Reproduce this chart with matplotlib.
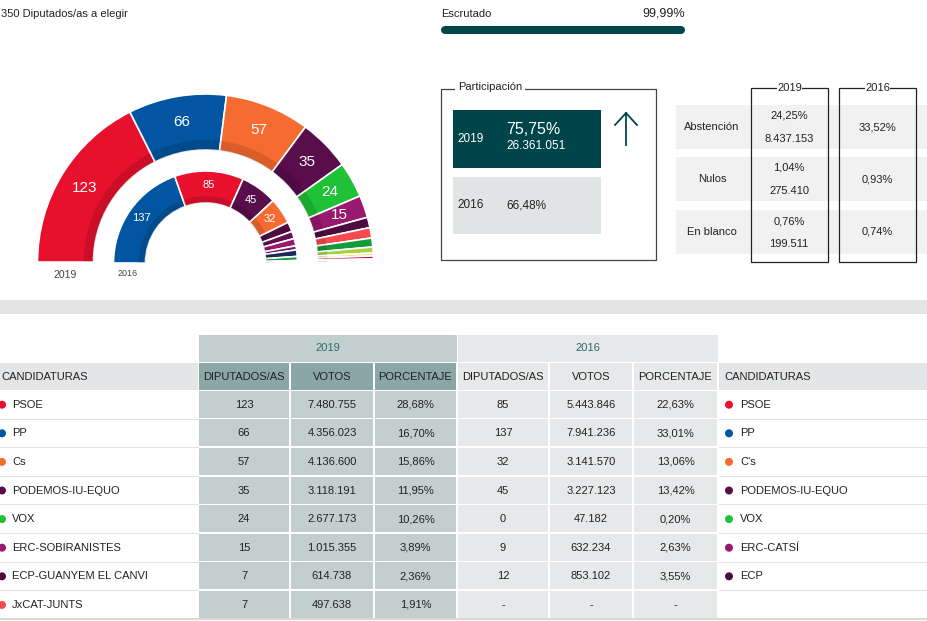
import math
import matplotlib.pyplot as plt
from matplotlib.patches import Wedge, Rectangle, Circle

plt.rcParams['font.family'] = ['Liberation Sans', 'DejaVu Sans']

# hemicycle data
seats_2019 = [123, 66, 57, 35, 24, 15, 7, 7, 6, 4, 2, 2, 1, 1]
colors_2019 = ['#e8112d', '#0256a1', '#f66b30', '#590d4a', '#1fc236', '#98196e', '#4d0b40',
               '#f54b4e', '#129b3a', '#a7d13e', '#f7e67a', '#c8102e', '#e96b8a', '#f5c4cf']
labels_2019 = [True, True, True, True, True, True, False, False, False, False, False, False, False, False]

seats_2016 = [137, 85, 45, 32, 12, 9, 9, 5, 8, 5, 2, 1]
colors_2016 = ['#0256a1', '#e8112d', '#590d4a', '#f66b30', '#4d0b40', '#5e1050', '#98196e',
               '#7a1a5e', '#1c2a5a', '#129b3a', '#a7d13e', '#f7e67a']
labels_2016 = [True, True, True, True, False, False, False, False, False, False, False, False]

# participation
part_years = ['2019', '2016']
part_pct = ['75,75%', '66,48%']
part_votes = ['26.361.051', '']

# abstention / null / blank
abs_rows = ['Abstención', 'Nulos', 'En blanco']
abs_2019_pct = ['24,25%', '1,04%', '0,76%']
abs_2019_num = ['8.437.153', '275.410', '199.511']
abs_2016_pct = ['33,52%', '0,93%', '0,74%']

# results table
parties_2019 = ['PSOE', 'PP', 'Cs', 'PODEMOS-IU-EQUO', 'VOX', 'ERC-SOBIRANISTES',
                'ECP-GUANYEM EL CANVI', 'JxCAT-JUNTS']
dip_2019 = [123, 66, 57, 35, 24, 15, 7, 7]
votos_2019 = [7480755, 4356023, 4136600, 3118191, 2677173, 1015355, 614738, 497638]
pct_2019 = [28.68, 16.70, 15.86, 11.95, 10.26, 3.89, 2.36, 1.91]
party_colors = ['#e8112d', '#0256a1', '#f66b30', '#590d4a', '#1fc236', '#98196e', '#4d0b40', '#f54b4e']

parties_2016 = ['PSOE', 'PP', "C's", 'PODEMOS-IU-EQUO', 'VOX', 'ERC-CATSÍ', 'ECP', None]
dip_2016 = [85, 137, 32, 45, 0, 9, 12, None]
votos_2016 = [5443846, 7941236, 3141570, 3227123, 47182, 632234, 853102, None]
pct_2016 = [22.63, 33.01, 13.06, 13.42, 0.20, 2.63, 3.55, None]

dark = '#222222'
teal = '#00454a'
fs = 8


def fmt_int(v):
    if v is None:
        return '-'
    return f'{v:,}'.replace(',', '.')


def fmt_pct(v):
    if v is None:
        return '-'
    return f'{v:.2f}%'.replace('.', ',')


fig = plt.figure(figsize=(9.28, 6.21), dpi=100)
ax = fig.add_axes([0, 0, 1, 1])
ax.set_xlim(0, 928)
ax.set_ylim(621, 0)
ax.axis('off')


def hemicycle(seats, colors, labels, cx, cy, r_out, r_in, shade, size):
    total = sum(seats)
    cum = 0
    for s, c, lab in zip(seats, colors, labels):
        t1 = 180 + cum / total * 180
        t2 = 180 + (cum + s) / total * 180
        ax.add_patch(Wedge((cx, cy), r_out, t1, t2, width=r_out - r_in, facecolor=c,
                           edgecolor='white', linewidth=1.2))
        ax.add_patch(Wedge((cx, cy), r_in + shade, t1, t2, width=shade, facecolor='black',
                           alpha=0.12, linewidth=0))
        if lab:
            a = math.radians((t1 + t2) / 2)
            rm = (r_out + r_in) / 2 + 2
            ax.text(cx + rm * math.cos(a), cy + rm * math.sin(a), str(s), color='white',
                    fontsize=size, ha='center', va='center')
        cum += s


hemicycle(seats_2019, colors_2019, labels_2019, 205.5, 262, 168, 112, 10, 11)
hemicycle(seats_2016, colors_2016, labels_2016, 205.5, 263, 92, 60, 7, 8)
ax.text(65, 275, '2019', fontsize=7.5, color='#444444', ha='center', va='center')
ax.text(128, 273, '2016', fontsize=6.5, color='#444444', ha='center', va='center')

ax.text(1, 14, '350 Diputados/as a elegir', fontsize=fs, color=dark, va='center')

# escrutado
ax.text(441, 14, 'Escrutado', fontsize=fs, color=dark, va='center')
ax.text(685, 14, '99,99%', fontsize=9, color=dark, va='center', ha='right')
ax.plot([445, 681], [30, 30], color=teal, linewidth=5.8, solid_capstyle='round')

# participation box
ax.add_patch(Rectangle((441, 89), 215, 171, facecolor='none', edgecolor='#444444', linewidth=0.9))
ax.text(458, 87, 'Participación', fontsize=fs, color=dark, va='center',
        bbox=dict(facecolor='white', edgecolor='none', pad=2))
ax.add_patch(Rectangle((453, 110), 148, 58, facecolor=teal, edgecolor='none'))
ax.add_patch(Rectangle((453, 177), 148, 57, facecolor='#e1e4e5', edgecolor='none'))
ax.text(457, 139, part_years[0], fontsize=8.5, color='white', va='center')
ax.text(506, 130, part_pct[0], fontsize=11.5, color='white', va='center')
ax.text(506, 146, part_votes[0], fontsize=8.5, color='white', va='center')
ax.text(457, 205, part_years[1], fontsize=8.5, color=dark, va='center')
ax.text(506, 205, part_pct[1], fontsize=8.5, color=dark, va='center')
ax.plot([626, 626], [113, 145], color=teal, linewidth=1.3)
ax.plot([615, 626, 637], [125, 113, 125], color=teal, linewidth=1.3)

# abstention table
row_tops = [105, 157, 210]
for i, top in enumerate(row_tops):
    ax.add_patch(Rectangle((676, top), 252, 44, facecolor='#f1f1f1', edgecolor='none'))
    mid = top + 22
    ax.text(712, mid, abs_rows[i], fontsize=fs, color=dark, ha='center', va='center')
    ax.text(789, mid - 11, abs_2019_pct[i], fontsize=fs, color=dark, ha='center', va='center')
    ax.text(789, mid + 12, abs_2019_num[i], fontsize=fs, color=dark, ha='center', va='center')
    ax.text(877, mid, abs_2016_pct[i], fontsize=fs, color=dark, ha='center', va='center')
for x0, yr in [(751, '2019'), (839, '2016')]:
    ax.add_patch(Rectangle((x0, 88), 77, 174, facecolor='none', edgecolor='#222222', linewidth=0.9))
    ax.text(x0 + 38.5, 88, yr, fontsize=fs, color=dark, ha='center', va='center',
            bbox=dict(facecolor='white', edgecolor='none', pad=0.3))

# separator band
ax.add_patch(Rectangle((0, 300), 928, 14, facecolor='#e4e4e4', edgecolor='none'))

# results table
ax.add_patch(Rectangle((199, 335), 258, 27, facecolor='#c3cfcf', edgecolor='none'))
ax.add_patch(Rectangle((458, 335), 260, 27, facecolor='#e6e8e9', edgecolor='none'))
ax.text(328, 348, '2019', fontsize=fs, color='#2d6b6b', ha='center', va='center')
ax.text(588, 348, '2016', fontsize=fs, color='#2d6b6b', ha='center', va='center')

cols_2019 = [(199, 289), (291, 373), (375, 456)]
cols_2016 = [(458, 548), (550, 632), (634, 717)]
heads = ['DIPUTADOS/AS', 'VOTOS', 'PORCENTAJE']
ax.add_patch(Rectangle((0, 363), 198, 27, facecolor='#e4e5e6', edgecolor='none'))
ax.add_patch(Rectangle((719, 363), 209, 27, facecolor='#e4e5e6', edgecolor='none'))
ax.text(1, 376.5, 'CANDIDATURAS', fontsize=fs, color=dark, va='center')
ax.text(724, 376.5, 'CANDIDATURAS', fontsize=fs, color=dark, va='center')
for (a, b), h in zip(cols_2019, heads):
    ax.add_patch(Rectangle((a, 363), b - a, 27, facecolor='#8aa7a5', edgecolor='none'))
    ax.text((a + b) / 2, 376.5, h, fontsize=fs, color=dark, ha='center', va='center')
for (a, b), h in zip(cols_2016, heads):
    ax.add_patch(Rectangle((a, 363), b - a, 27, facecolor='#e6e8e9', edgecolor='none'))
    ax.text((a + b) / 2, 376.5, h, fontsize=fs, color=dark, ha='center', va='center')

row_h = 28.6
for i in range(len(parties_2019)):
    top = 390 + i * row_h + 0.8
    mid = top + row_h / 2 - 0.4
    vals19 = [str(dip_2019[i]), fmt_int(votos_2019[i]), fmt_pct(pct_2019[i])]
    vals16 = [fmt_int(dip_2016[i]), fmt_int(votos_2016[i]), fmt_pct(pct_2016[i])]
    for (a, b), v in zip(cols_2019, vals19):
        ax.add_patch(Rectangle((a, top), b - a, row_h - 1.6, facecolor='#c3cfcf', edgecolor='none'))
        ax.text((a + b) / 2, mid, v, fontsize=fs, color=dark, ha='center', va='center')
    for (a, b), v in zip(cols_2016, vals16):
        ax.add_patch(Rectangle((a, top), b - a, row_h - 1.6, facecolor='#e6e8e9', edgecolor='none'))
        ax.text((a + b) / 2, mid, v, fontsize=fs, color=dark, ha='center', va='center')
    ax.add_patch(Circle((2, mid), 4, facecolor=party_colors[i], edgecolor='none'))
    ax.text(12, mid, parties_2019[i], fontsize=fs, color=dark, va='center')
    if parties_2016[i] is not None:
        ax.add_patch(Circle((729, mid), 4, facecolor=party_colors[i], edgecolor='none'))
        ax.text(740, mid, parties_2016[i], fontsize=fs, color=dark, va='center')
    yline = 390 + (i + 1) * row_h
    ax.plot([0, 198], [yline, yline], color='#e3e3e3', linewidth=0.8)
    ax.plot([719, 928], [yline, yline], color='#e3e3e3', linewidth=0.8)
ax.plot([0, 928], [619, 619], color='#d8d8d8', linewidth=1.5)

fig.savefig('out.png', dpi=100)
